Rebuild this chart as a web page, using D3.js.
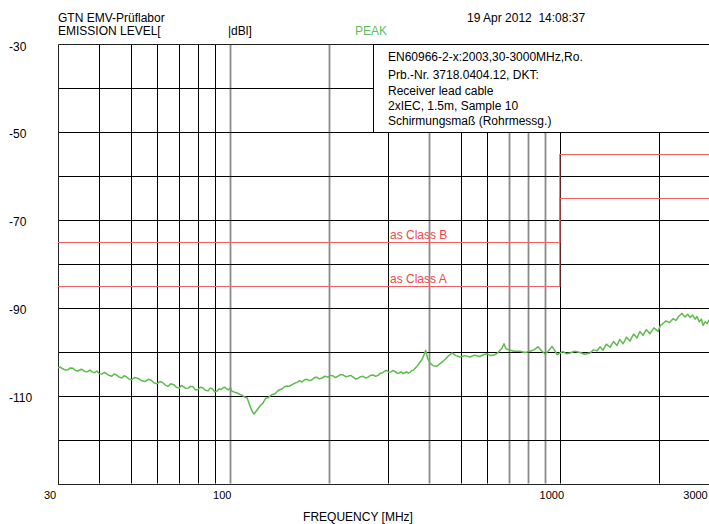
<!DOCTYPE html>
<html><head><meta charset="utf-8">
<script src="https://cdn.jsdelivr.net/npm/d3@7/dist/d3.min.js"></script>
<style>
body{margin:0;background:#fff}
svg{display:block}
text{font-family:"Liberation Sans",Arial,sans-serif;font-size:12px;fill:#000}
</style>
</head><body>
<svg id="c" width="709" height="524"></svg>
<script>
// ---- data ----
const freqMHz = [30,30.5,31,31.6,32.2,32.7,33.3,33.9,34.5,35.3,36.2,36.8,37.5,38.1,38.8,39.4,40,40.7,41.5,42.6,43.7,44.4,45.2,46,46.9,47.6,48.4,49.2,50,51.2,52.5,53.8,55.1,56.3,57.5,58.7,59.9,61.1,62.3,63.5,64.7,66,67.3,68.6,70,71,72,73.2,74.4,75.7,77,78.4,79.8,81.1,82.5,84,85.6,86.9,88.3,89.7,91.1,92.4,93.8,95.1,96.4,97.6,98.8,100,101.2,103,104.8,106.6,108.5,110.4,112.4,113.6,114.8,116.4,118,
  121.4,123.5,125.7,128,130.2,133.5,136.7,140,143.6,146,148.5,151,153.9,156.7,159.5,162.3,165.1,168,171,174,177,180,183,186.4,189.8,194,198,201.5,205,208.5,212,216,220,224,227.7,232,236,240,244,248.5,253,257.4,261.8,266.4,271,276,280.8,285.4,290,294.4,298.9,303,307,311.5,316,320.5,325,329.7,334.5,338.7,343,347,351,355.5,360,
  368.8,375,381.9,387,391.8,397,403.7,413,424,432,442.3,456,471,484,498,515,534,552,572.6,587,601,618,636,648,658.6,668,677,686,696,725,757,785,812,835,859,880,902,925,947,965,981,1000,1023,1048,1074,1110,1152,1190,1235,1265,1297,1325,1352,1385,1420,1455,1492,1520,1556,1595,1633,1675,1715,1750,1789,1830,1878,1930,1987,2020,2057,2100,2150,2206,2250,2300,2349,2400,2445,2484,2530,2575,2609,2650,2690,2721,2760,2800,2837,2900,3000];
const levelDb = [-103.7,-103.5,-103.9,-104.2,-104.1,-103.7,-103.8,-104.3,-104.4,-104.0,-104.5,-104.6,-104.2,-104.6,-104.8,-104.4,-105.0,-105.1,-104.7,-105.3,-105.6,-105.1,-105.3,-105.8,-106.0,-105.5,-105.7,-106.2,-106.4,-105.9,-106.1,-106.6,-106.8,-106.3,-106.5,-107.1,-107.3,-106.8,-107.0,-107.6,-107.9,-107.3,-107.5,-108.1,-108.3,-107.7,-107.9,-108.4,-108.3,-107.9,-108.0,-108.7,-108.6,-108.1,-108.2,-108.8,-108.9,-108.3,-108.5,-109.1,-109.0,-108.5,-108.6,-108.2,-108.1,-108.5,-108.7,-108.2,-109.0,-109.2,-109.4,-109.7,-109.9,-110.3,-110.5,-111.4,-112.4,-113.5,-114.2,
  -113.0,-112.2,-111.7,-110.6,-110.5,-109.8,-109.6,-108.8,-108.5,-108.0,-107.8,-107.9,-107.5,-107.2,-107.0,-106.6,-106.9,-106.4,-106.3,-106.6,-106.4,-105.9,-105.8,-106.2,-106.0,-105.6,-105.8,-105.4,-105.5,-105.9,-105.6,-105.2,-105.3,-105.7,-105.6,-105.4,-105.8,-106.2,-106.1,-105.7,-105.6,-106.0,-105.8,-105.4,-105.3,-105.6,-105.4,-104.9,-104.8,-104.4,-104.3,-104.7,-104.6,-104.3,-104.5,-104.9,-104.9,-104.6,-105.0,-104.8,-104.6,-104.9,-104.7,-104.3,-104.2,
  -103.3,-102.6,-101.8,-100.8,-99.7,-101.5,-102.6,-103.2,-103.3,-102.8,-102.2,-101.2,-100.3,-100.9,-101.2,-100.9,-101.2,-100.8,-101.1,-100.7,-100.5,-100.9,-100.7,-100.3,-99.7,-99.2,-98.2,-99.3,-99.5,-99.9,-99.9,-100.2,-99.9,-99.6,-98.9,-99.8,-100.5,-99.8,-98.8,-99.7,-100.7,-100.3,-100.0,-100.5,-100.3,-99.9,-100.2,-100.6,-100.3,-99.6,-99.8,-98.9,-99.7,-98.3,-99.0,-97.7,-98.6,-97.2,-98.2,-96.7,-97.6,-96.0,-96.9,-95.4,-96.3,-95.0,-95.9,-94.6,-95.4,-94.0,-93.6,-93.0,-93.4,-92.5,-92.9,-91.9,-91.3,-92.1,-91.5,-92.2,-91.7,-92.6,-92.0,-93.2,-92.6,-94.0,-93.2,-93.6,-92.8,-93.3,-93.0];
const xTickLabels = [30,100,1000,3000];
const yTickLabels = [-30,-50,-70,-90,-110];
const xGridFreqs = [40,50,60,70,80,90,100,200,300,400,500,600,700,800,900,1000,2000];
const yGridLevels = [-40,-50,-60,-70,-80,-90,-100,-110,-120];
const limitClassBFreq = [30,1000,1000,3000];
const limitClassBLevel = [-75,-75,-55,-55];
const limitClassAFreq = [30,1000,1000,3000];
const limitClassALevel = [-85,-85,-65,-65];
const limitLabels = ["as Class B","as Class A"];
const limitLabelLevels = [-75,-85];
const headerLines = ["GTN EMV-Prüflabor","EMISSION LEVEL["];
const infoLines = ["EN60966-2-x:2003,30-3000MHz,Ro.","Prb.-Nr. 3718.0404.12, DKT:","Receiver lead cable","2xIEC, 1.5m, Sample 10","Schirmungsmaß (Rohrmessg.)"];

// ---- chart ----
const svg = d3.select("#c");
svg.append("rect").attr("width",709).attr("height",524).attr("fill","#fff");

const x = d3.scaleLog().domain([30,3000]).range([58,717]);
const y = d3.scaleLinear().domain([-30,-130]).range([44,483.5]);

const grayLines = new Set([100,200,400,700,800,900]);
const grid = svg.append("g");
grid.selectAll("line.v").data(xGridFreqs).join("line")
  .attr("x1",d=>Math.round(x(d))+0.5).attr("x2",d=>Math.round(x(d))+0.5)
  .attr("y1",y(-30)).attr("y2",y(-130))
  .attr("stroke",d=>grayLines.has(d)?"#8a8a8a":"#000")
  .attr("stroke-width",d=>grayLines.has(d)?1.8:1);
grid.selectAll("line.h").data(yGridLevels).join("line")
  .attr("x1",x(30)).attr("x2",x(3000))
  .attr("y1",d=>Math.round(y(d))+0.5).attr("y2",d=>Math.round(y(d))+0.5)
  .attr("stroke","#000").attr("stroke-width",1);
// frame
svg.append("path")
  .attr("d",`M${x(30)+0.5},${Math.round(y(-130))+0.5}V${y(-30)+0.5}H${x(3000)}M${x(30)},${Math.round(y(-130))+0.5}H${x(3000)}`)
  .attr("fill","none").attr("stroke","#222").attr("stroke-width",1);

// info box
const boxX = 373;
svg.append("rect").attr("x",boxX+0.5).attr("y",y(-30)+0.5)
  .attr("width",x(3000)-boxX).attr("height",Math.round(y(-50))-y(-30))
  .attr("fill","#fff").attr("stroke","#000").attr("stroke-width",1);
const infoY = [60.5,79,94.5,109.5,124.5];
svg.append("g").selectAll("text").data(infoLines).join("text")
  .attr("x",388).attr("y",(d,i)=>infoY[i]).text(d=>d);

// limit lines
const lim = d3.line().x(d=>x(d[0])).y(d=>Math.round(y(d[1]))+0.5);
svg.append("path").datum(limitClassBFreq.map((f,i)=>[f,limitClassBLevel[i]]))
  .attr("d",lim).attr("fill","none").attr("stroke","#f06060").attr("stroke-width",1.2);
svg.append("path").datum(limitClassAFreq.map((f,i)=>[f,limitClassALevel[i]]))
  .attr("d",lim).attr("fill","none").attr("stroke","#f06060").attr("stroke-width",1.2);
svg.append("g").selectAll("text").data(limitLabels).join("text")
  .attr("x",390).attr("y",(d,i)=>y(limitLabelLevels[i])-3)
  .style("fill","#f04848").text(d=>d);

// trace
const trace = d3.line().x(d=>x(d[0])).y(d=>y(d[1]));
svg.append("path").datum(freqMHz.map((f,i)=>[f,levelDb[i]]))
  .attr("d",trace).attr("fill","none").attr("stroke","#5cbc4c").attr("stroke-width",1.5)
  .attr("stroke-linejoin","round");

// axes
const xAxis = svg.append("g").attr("transform",`translate(0,${y(-130)})`)
  .call(d3.axisBottom(x).tickValues(xTickLabels).tickSize(0).tickFormat(d3.format("d")));
xAxis.select(".domain").remove();
xAxis.selectAll("text").attr("text-anchor","middle").attr("font-family",null).attr("font-size",null)
  .style("font-size","11px")
  .attr("dy",null).attr("y",15)
  .attr("x",function(d){ return Math.min(x(d)-8.5,695) - x(d); });

const yAxis = svg.append("g").attr("transform",`translate(${x(30)},0)`)
  .call(d3.axisLeft(y).tickValues(yTickLabels).tickSize(0).tickFormat(d=>d));
yAxis.select(".domain").remove();
yAxis.selectAll("text").attr("text-anchor","start").attr("font-family",null).attr("font-size",null)
  .attr("dy",null).attr("x",9-x(30)).attr("y",6);

svg.append("text").attr("x",358).attr("y",521).attr("text-anchor","middle").text("FREQUENCY [MHz]");

// header
svg.append("text").attr("x",58).attr("y",22).text(headerLines[0]);
svg.append("text").attr("x",58).attr("y",35).text(headerLines[1]);
svg.append("text").attr("x",228).attr("y",35).text("|dBl]");
svg.append("text").attr("x",355).attr("y",35).style("fill","#5cbf5c").text("PEAK");
svg.append("text").attr("x",467).attr("y",22).text("19 Apr 2012  14:08:37").style("white-space","pre");
</script>
</body></html>
